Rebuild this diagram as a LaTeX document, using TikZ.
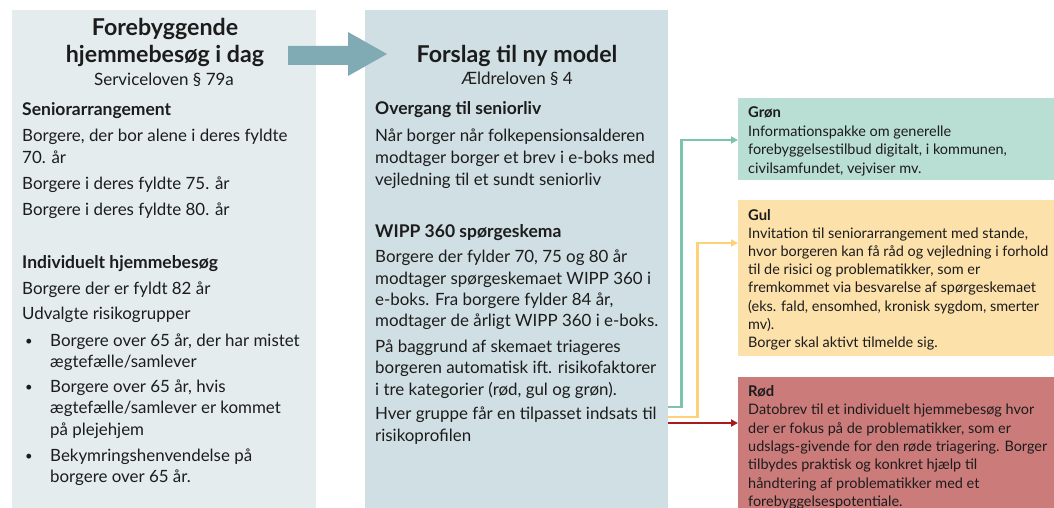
\documentclass[tikz,border=0pt]{standalone}
\usepackage{fontspec}
\setmainfont{Lato}
\usepackage{tikz}
\usetikzlibrary{positioning,arrows.meta}

\definecolor{leftfill}{HTML}{E5ECEE}
\definecolor{midfill}{HTML}{D0DFE4}
\definecolor{gronfill}{HTML}{B9DED3}
\definecolor{gulfill}{HTML}{FDE1AB}
\definecolor{rodfill}{HTML}{CC7B7B}
\definecolor{shiftfill}{HTML}{80ABB5}
\definecolor{gronline}{HTML}{7CC4AE}
\definecolor{gulline}{HTML}{FFD27A}
\definecolor{rodline}{HTML}{A61C1C}
\definecolor{ink}{HTML}{1C1C1C}

\begin{document}
\begin{tikzpicture}[
        x=1pt, y=-1pt,
        panel/.style={rectangle, draw=none, inner sep=0pt, anchor=north west},
        title/.style={font=\fontsize{23.2}{25}\selectfont\bfseries, text=ink, inner sep=0pt, anchor=base},
        law/.style={font=\fontsize{17}{19}\selectfont, text=ink, inner sep=0pt, anchor=base},
        head/.style={font=\fontsize{17.5}{19}\selectfont\bfseries, text=ink, inner sep=0pt, anchor=base west},
        body/.style={font=\fontsize{16.9}{19}\selectfont, text=ink, inner sep=0pt, anchor=base west},
        chead/.style={font=\fontsize{14.8}{16}\selectfont\bfseries, text=ink, inner sep=0pt, anchor=base west},
        cbody/.style={font=\fontsize{14.45}{16}\selectfont, text=ink, inner sep=0pt, anchor=base west},
        flow/.style={line width=2.8pt, -{Triangle[length=7pt,width=7pt]}}
    ]
    \useasboundingbox (0,0) rectangle (1054,508);

    % ---------- kasser ----------
    \node[panel, fill=leftfill, minimum width=304pt, minimum height=498pt] (left) at (12,10) {};
    \node[panel, fill=midfill, minimum width=303pt, minimum height=498pt] (mid) at (365,10) {};
    \node[panel, fill=gronfill, minimum width=316pt, minimum height=82pt] (gron) at (738,98) {};
    \node[panel, fill=gulfill, minimum width=316pt, minimum height=156pt] (gul) at (738,200) {};
    \node[panel, fill=rodfill, minimum width=316pt, minimum height=131pt] (rod) at (738,377) {};

    % ---------- blokpil ----------
    \fill[shiftfill] (288,46) -- (348,46) -- (348,32) -- (387,54) -- (348,76) -- (348,65) -- (288,65) -- cycle;

    % ---------- venstre kolonne ----------
    \node[title] (ltitle1) at (165,36) {Forebyggende};
    \node[title] (ltitle2) at (165,63) {hjemmebesøg i dag};
    \node[law] (llaw) at (164,86) {Serviceloven § 79a};
    \node[head] (lhead1) at (22,116) {Seniorarrangement};
    \node[head] (lhead2) at (22,268) {Individuelt hjemmebesøg};
    \foreach \y/\t in {142/{Borgere, der bor alene i deres fyldte}, 163/{70. år},
                       189/{Borgere i deres fyldte 75. år}, 215/{Borgere i deres fyldte 80. år},
                       294/{Borgere der er fyldt 82 år}, 319/{Udvalgte risikogrupper}} {
        \node[body] (L\y) at (22,\y) {\t};
    }
    \foreach \y in {346,392,461} {
        \node[body, font=\fontsize{13}{15}\selectfont] (B\y) at (25,\y-1) {•};
    }
    \foreach \y/\t in {346/{Borgere over 65 år, der har mistet}, 367/{ægtefælle/samlever},
                       392/{Borgere over 65 år, hvis}, 413/{ægtefælle/samlever er kommet},
                       435/{på plejehjem}, 461/{Bekymringshenvendelse på},
                       482/{borgere over 65 år.}} {
        \node[body] (P\y) at (50,\y) {\t};
    }

    % ---------- midterste kolonne ----------
    \node[title] (mtitle) at (517,63) {Forslag til ny model};
    \node[law] (mlaw) at (517,85) {Ældreloven § 4};
    \node[head] (mhead1) at (375,115) {Overgang til seniorliv};
    \node[head] (mhead2) at (375,237) {WIPP 360 spørgeskema};
    \foreach \y/\t in {142/{Når borger når folkepensionsalderen}, 163/{modtager borger et brev i e-boks med},
                       185/{vejledning til et sundt seniorliv},
                       262/{Borgere der fylder 70, 75 og 80 år}, 284/{modtager spørgeskemaet WIPP 360 i},
                       305/{e-boks. Fra borgere fylder 84 år,}, 326/{modtager de årligt WIPP 360 i e-boks.},
                       352/{På baggrund af skemaet triageres}, 373/{borgeren automatisk ift. risikofaktorer},
                       395/{i tre kategorier (rød, gul og grøn).},
                       419/{Hver gruppe får en tilpasset indsats til}, 441/{risikoprofilen}} {
        \node[body] (M\y) at (375,\y) {\t};
    }

    % ---------- farvekasser ----------
    \node[chead] (ghead) at (748,117.5) {Grøn};
    \foreach \y/\t in {136/{Informationspakke om generelle},
                       154.5/{forebyggelsestilbud digitalt, i kommunen,},
                       173/{civilsamfundet, vejviser mv.}} {
        \node[cbody] (G\y) at (748,\y) {\t};
    }
    \node[chead] (yhead) at (748,220) {Gul};
    \foreach \y/\t in {238.2/{Invitation til seniorarrangement med stande,},
                       256.4/{hvor borgeren kan få råd og vejledning i forhold},
                       274.6/{til de risici og problematikker, som er},
                       292.8/{fremkommet via besvarelse af spørgeskemaet},
                       311/{(eks. fald, ensomhed, kronisk sygdom, smerter},
                       329.2/{mv).}, 347.4/{Borger skal aktivt tilmelde sig.}} {
        \node[cbody] (Y\y) at (748,\y) {\t};
    }
    \node[chead] (rhead) at (748,396.5) {Rød};
    \foreach \y/\t in {414.8/{Datobrev til et individuelt hjemmebesøg hvor},
                       433.1/{der er fokus på de problematikker, som er},
                       451.4/{udslags-givende for den røde triagering. Borger},
                       469.7/{tilbydes praktisk og konkret hjælp til},
                       488/{håndtering af problematikker med et},
                       506.3/{forebyggelsespotentiale.}} {
        \node[cbody] (R\y) at (748,\y) {\t};
    }

    % ---------- forbindelser ----------
    \draw[flow, gronline] ([yshift=-397pt]mid.north east) -- ++(13,0) |- ([yshift=-42pt]gron.north west);
    \draw[flow, gulline] ([yshift=-407pt]mid.north east) -- ++(29,0) |- ([yshift=-43pt]gul.north west);
    \draw[flow, rodline, line width=2.2pt] ([yshift=-413pt]mid.north east) -- ([yshift=-46pt]rod.north west);

\end{tikzpicture}
\end{document}
